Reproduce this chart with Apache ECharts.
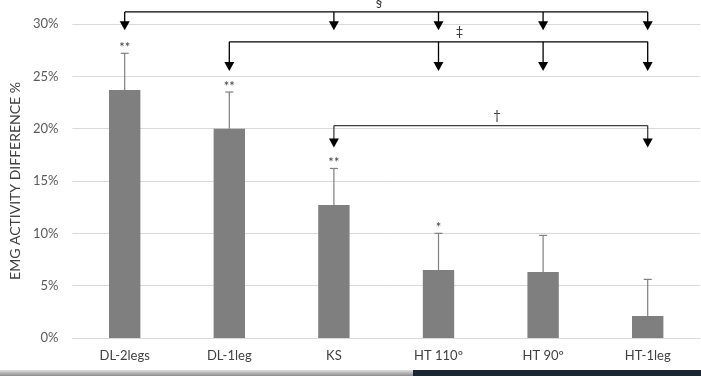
<!DOCTYPE html>
<html>
<head>
<meta charset="utf-8">
<script src="https://cdn.jsdelivr.net/npm/echarts@6/dist/echarts.min.js"></script>
<style>
  html, body { margin: 0; padding: 0; background: #fff; }
  #chart { width: 701px; height: 376px; }
</style>
</head>
<body>
<div id="chart"></div>
<script>
// categories and values (%)
var categories = ['DL-2legs', 'DL-1leg', 'KS', 'HT 110º', 'HT 90º', 'HT-1leg'];
var values = [23.7, 20.0, 12.7, 6.5, 6.3, 2.1];
var errors = [3.5, 3.5, 3.5, 3.5, 3.5, 3.5];
var stars = ['**', '**', '**', '*', '', ''];
var yTicks = [0, 5, 10, 15, 20, 25, 30];

// significance brackets: line level, arrow tip level (in %), target category indexes
var brackets = [
  { label: '§', level: 31.15, tip: 29.4, targets: [0, 2, 3, 4, 5], color: '#000' },
  { label: '‡', level: 28.3, tip: 25.5, targets: [1, 3, 4, 5], color: '#000' },
  { label: '†', level: 20.3, tip: 18.2, targets: [2, 5], color: '#404040' }
];
var labelAt = [2.43, 3.2, 3.56]; // category position of each bracket label

var font = 'Lato';
var myChart = echarts.init(document.getElementById('chart'));

var options = {
  animation: false,
  textStyle: { fontFamily: font },
  grid: { left: 67, right: 1, top: 24, bottom: 38 },
  xAxis: {
    type: 'category',
    data: categories,
    axisLine: { lineStyle: { color: '#d9d9d9' } },
    axisTick: { show: false },
    axisLabel: { color: '#404040', fontSize: 13, margin: 11, fontFamily: font }
  },
  yAxis: {
    type: 'value',
    min: 0,
    max: 30,
    interval: 5,
    name: 'EMG ACTIVITY DIFFERENCE %',
    nameLocation: 'middle',
    nameGap: 45,
    nameTextStyle: { color: '#404040', fontSize: 14, fontFamily: font },
    axisLine: { show: false },
    axisTick: { show: false },
    splitLine: { lineStyle: { color: '#d9d9d9' } },
    axisLabel: {
      color: '#595959', fontSize: 13, margin: 14, fontFamily: font,
      formatter: function (v) { return yTicks.indexOf(v) >= 0 ? v + '%' : ''; }
    }
  },
  series: [
    {
      type: 'bar',
      barWidth: '30%',
      itemStyle: { color: '#7f7f7f' },
      data: values
    },
    {
      type: 'custom',
      z: 5,
      data: values.map(function (v, i) { return [i, v, v + errors[i]]; }),
      renderItem: function (params, api) {
        var base = api.coord([api.value(0), api.value(1)]);
        var top = api.coord([api.value(0), api.value(2)]);
        var i = params.dataIndex;
        var children = [
          { type: 'line', shape: { x1: base[0], y1: base[1], x2: top[0], y2: top[1] }, style: { stroke: '#7f7f7f', lineWidth: 1.2 } },
          { type: 'line', shape: { x1: top[0] - 4, y1: top[1], x2: top[0] + 4, y2: top[1] }, style: { stroke: '#7f7f7f', lineWidth: 1.2 } }
        ];
        if (stars[i]) {
          children.push({
            type: 'text',
            style: { text: stars[i], x: top[0], y: top[1] + 1, align: 'center', verticalAlign: 'bottom', fill: '#404040', font: '13px ' + font }
          });
        }
        return { type: 'group', children: children };
      }
    }
  ]
};
myChart.setOption(options);

// x pixel for a fractional category position
function catX(pos) {
  var x0 = myChart.convertToPixel({ seriesIndex: 0 }, [0, 0])[0];
  var x1 = myChart.convertToPixel({ seriesIndex: 0 }, [1, 0])[0];
  return x0 + pos * (x1 - x0);
}

// brackets drawn in data space
function drawBrackets() {
  var els = [];
  brackets.forEach(function (b, k) {
    var xs = b.targets.map(function (t) { return catX(t); });
    var yLine = myChart.convertToPixel({ seriesIndex: 0 }, [0, b.level])[1];
    var yTip = myChart.convertToPixel({ seriesIndex: 0 }, [0, b.tip])[1];
    els.push({ type: 'line', shape: { x1: xs[0], y1: yLine, x2: xs[xs.length - 1], y2: yLine }, style: { stroke: b.color, lineWidth: 1.3 } });
    xs.forEach(function (x) {
      els.push({ type: 'line', shape: { x1: x, y1: yLine, x2: x, y2: yTip - 8 }, style: { stroke: b.color, lineWidth: 1.3 } });
      els.push({ type: 'polygon', shape: { points: [[x - 5, yTip - 9], [x + 5, yTip - 9], [x, yTip]] }, style: { fill: '#000' } });
    });
    els.push({ type: 'text', style: { text: b.label, x: catX(labelAt[k]), y: yLine - 3, align: 'center', verticalAlign: 'bottom', fill: '#333', font: '13px ' + font } });
  });
  // screenshot border strip at the bottom
  els.push({ type: 'rect', shape: { x: 0, y: 370, width: 413, height: 6 }, style: { fill: new echarts.graphic.LinearGradient(0, 0, 0, 1, [{ offset: 0, color: '#e0e0e0' }, { offset: 1, color: '#8c8c8c' }]) } });
  els.push({ type: 'rect', shape: { x: 413, y: 370, width: 288, height: 6 }, style: { fill: '#1c2733' } });
  myChart.setOption({ graphic: { elements: els } });
}
drawBrackets();
</script>
</body>
</html>
